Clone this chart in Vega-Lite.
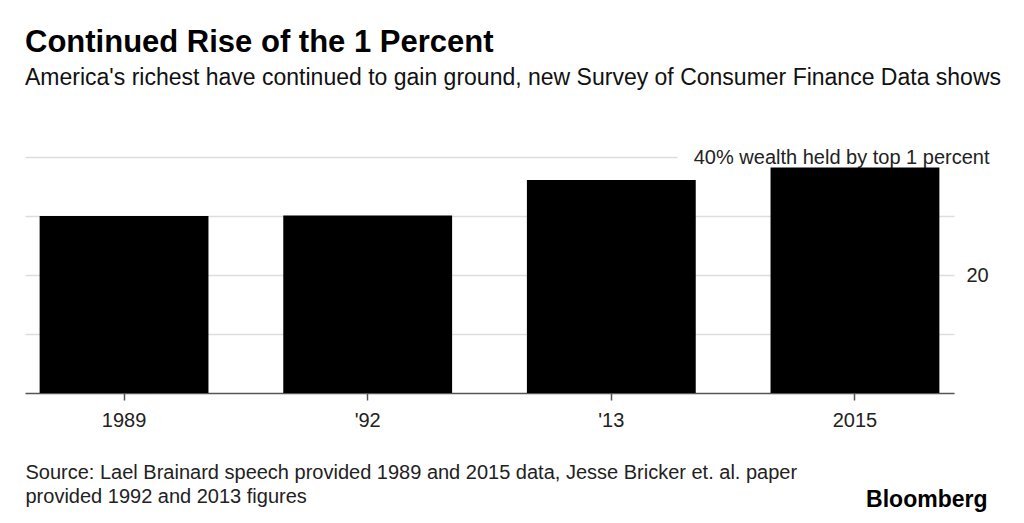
{
  "$schema": "https://vega.github.io/schema/vega-lite/v6.json",
  "width": 929,
  "height": 236,
  "autosize": "none",
  "padding": {"left": 25, "top": 157, "right": 70, "bottom": 130},
  "background": "white",
  "title": {
    "text": "Continued Rise of the 1 Percent",
    "subtitle": "America's richest have continued to gain ground, new Survey of Consumer Finance Data shows",
    "anchor": "start",
    "frame": "group",
    "font": "Liberation Sans",
    "fontSize": 31,
    "fontWeight": "bold",
    "color": "#000000",
    "subtitleFont": "Liberation Sans",
    "subtitleFontSize": 23,
    "subtitleColor": "#111111",
    "subtitlePadding": 8,
    "offset": 56
  },
  "data": {
    "values": [
      {"year": "1989", "share": 30.0},
      {"year": "'92", "share": 30.1},
      {"year": "'13", "share": 36.1},
      {"year": "2015", "share": 38.2}
    ]
  },
  "mark": {"type": "bar", "color": "#000000"},
  "encoding": {
    "x": {
      "field": "year",
      "type": "ordinal",
      "sort": null,
      "scale": {"paddingInner": 0.307, "paddingOuter": 0.06},
      "axis": {
        "title": ["Source: Lael Brainard speech provided 1989 and 2015 data, Jesse Bricker et. al. paper", "provided 1992 and 2013  figures"],
        "titleFont": "Liberation Sans",
        "titleFontSize": 20,
        "titleFontWeight": "normal",
        "titleColor": "#222222",
        "titleAnchor": "start",
        "titleAlign": "left",
        "titleBaseline": "alphabetic",
        "titleX": 0,
        "titleY": 85,
        "titleLineHeight": 24,
        "labelAngle": 0,
        "labelFont": "Liberation Sans",
        "labelFontSize": 20,
        "labelColor": "#222222",
        "labelPadding": 10,
        "tickSize": 7,
        "tickColor": "#555555",
        "tickWidth": 1.5,
        "domainColor": "#555555",
        "domainWidth": 1.5,
        "grid": false
      }
    },
    "y": {
      "field": "share",
      "type": "quantitative",
      "scale": {"domain": [0, 40], "nice": false},
      "axis": {
        "orient": "right",
        "values": [10, 20, 30, 40],
        "labelExpr": "datum.value == 40 ? '40% wealth held by top 1 percent' : (datum.value == 20 ? '20' : '')",
        "labelAlign": {"condition": {"test": "datum.value == 40", "value": "right"}, "value": "left"},
        "labelPadding": {"condition": {"test": "datum.value == 40", "value": 35}, "value": 12},
        "labelLimit": 0,
        "labelFont": "Liberation Sans",
        "labelFontSize": 20,
        "labelColor": "#222222",
        "labelBaseline": "middle",
        "ticks": false,
        "domain": false,
        "grid": true,
        "gridColor": "#dddddd",
        "gridWidth": 1.5,
        "gridDash": {"condition": {"test": "datum.value == 40", "value": [0, 277, 2000]}, "value": []},
        "title": "Bloomberg",
        "titleFont": "Liberation Sans",
        "titleFontSize": 23,
        "titleFontWeight": "bold",
        "titleColor": "#000000",
        "titleAngle": 0,
        "titleAlign": "right",
        "titleBaseline": "alphabetic",
        "titleX": 33,
        "titleY": 349
      }
    }
  },
  "config": {
    "view": {"stroke": null},
    "axis": {"labelOverlap": false}
  }
}
